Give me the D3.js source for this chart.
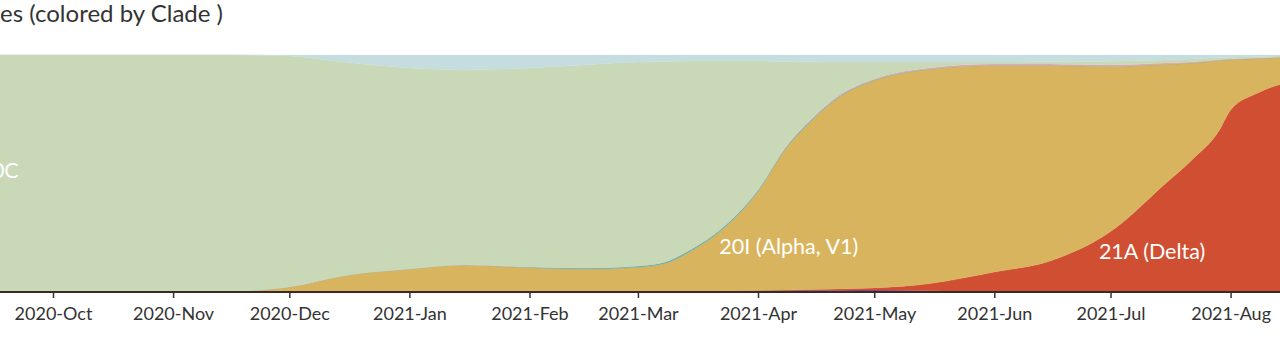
<!DOCTYPE html>
<html>
<head>
<meta charset="utf-8">
<script src="https://cdn.jsdelivr.net/npm/d3@7"></script>
<style>
  body { margin: 0; background: #fff; overflow: hidden; }
  svg { display: block; font-family: Lato, "Open Sans", sans-serif; }
</style>
</head>
<body>
<div id="chart"></div>
<script>
// Sample dates (pivots)
const dates = [
  "2020-09-15", "2020-10-01", "2020-10-15", "2020-11-01", "2020-11-15",
  "2020-12-01", "2020-12-15", "2021-01-01", "2021-01-15", "2021-02-01",
  "2021-02-15", "2021-03-01", "2021-03-08", "2021-03-15", "2021-03-22",
  "2021-04-01", "2021-04-08", "2021-04-15", "2021-04-22", "2021-05-01",
  "2021-05-15", "2021-06-01", "2021-06-15", "2021-07-01", "2021-07-15",
  "2021-07-22", "2021-07-29", "2021-08-01", "2021-08-08", "2021-08-15"
];

// Clades, stacked from the bottom up
const clades = ["21B (Kappa)", "21A (Delta)", "20I (Alpha, V1)", "20H (Beta, V2)", "20J (Gamma, V3)", "20C", "20B"];
const cladeColors = ["#7a3f9c", "#d04f32", "#d9b45e", "#62b2a6", "#dba7ad", "#c9d9b8", "#c6dde0"];

// frequencies per clade, one value per date
const kappa = [0, 0, 0, 0, 0, 0, 0, 0, 0, 0, 0, 0, 0, 0.001, 0.003, 0.005, 0.006, 0.007, 0.007, 0.008, 0.005, 0.002, 0.001, 0, 0, 0, 0, 0, 0, 0];
const delta = [0, 0, 0, 0, 0, 0, 0, 0, 0, 0, 0, 0, 0, 0, 0, 0.001, 0.002, 0.004, 0.006, 0.009, 0.030, 0.082, 0.128, 0.255, 0.455, 0.557, 0.680, 0.768, 0.840, 0.882];
const alpha = [0, 0, 0, 0, 0.002, 0.021, 0.068, 0.097, 0.114, 0.102, 0.096, 0.104, 0.120, 0.175, 0.250, 0.418, 0.593, 0.715, 0.810, 0.875, 0.904, 0.872, 0.827, 0.697, 0.506, 0.409, 0.297, 0.212, 0.145, 0.108];
const beta = [0, 0, 0, 0, 0, 0, 0, 0, 0, 0.003, 0.005, 0.006, 0.007, 0.007, 0.007, 0.006, 0.005, 0.004, 0.003, 0.002, 0.001, 0, 0, 0, 0, 0, 0, 0, 0, 0];
const gamma = [0, 0, 0, 0, 0, 0, 0, 0, 0, 0, 0, 0, 0, 0, 0, 0, 0.002, 0.004, 0.005, 0.005, 0.005, 0.006, 0.006, 0.006, 0.005, 0.004, 0.003, 0.003, 0.002, 0.002];
const c20C = [1, 1, 1, 1, 0.998, 0.975, 0.902, 0.848, 0.823, 0.840, 0.857, 0.860, 0.846, 0.792, 0.715, 0.545, 0.365, 0.237, 0.139, 0.071, 0.025, 0.008, 0.009, 0.016, 0.013, 0.013, 0.008, 0.007, 0.007, 0.004];
const c20B = [0, 0, 0, 0, 0, 0.004, 0.030, 0.055, 0.063, 0.055, 0.042, 0.030, 0.027, 0.025, 0.025, 0.025, 0.027, 0.029, 0.030, 0.030, 0.030, 0.030, 0.029, 0.026, 0.021, 0.017, 0.012, 0.010, 0.006, 0.004];

const series = [kappa, delta, alpha, beta, gamma, c20C, c20B];

// Axis ticks
const tickDates = ["2020-10-01", "2020-11-01", "2020-12-01", "2021-01-01", "2021-02-01", "2021-03-01",
  "2021-04-01", "2021-05-01", "2021-06-01", "2021-07-01", "2021-08-01"];

// Streamgraph labels: [clade, anchor date, frequency height]
const labels = [
  ["20C", "2020-09-12", 0.48],
  ["20I (Alpha, V1)", "2021-03-22", 0.16],
  ["21A (Delta)", "2021-06-28", 0.14]
];

const width = 1280;
const height = 347;
const margin = { top: 55, bottom: 55 };

const parse = d3.timeParse("%Y-%m-%d");

const table = dates.map((d, i) => {
  const row = { date: parse(d) };
  clades.forEach((c, j) => row[c] = series[j][i]);
  return row;
});

const svg = d3.select("#chart")
  .append("svg")
  .attr("width", width)
  .attr("height", height);

// Time scale: Oct-1 sits at x=53 and Aug-1 at x~1231
const x = d3.scaleTime()
  .domain([parse("2020-10-01"), parse("2021-08-01")])
  .range([53, 1230.6]);

const y = d3.scaleLinear()
  .domain([0, 1])
  .range([height - margin.bottom, margin.top]);

const stack = d3.stack()
  .keys(clades)
  .offset(d3.stackOffsetExpand);

const layers = stack(table);

const area = d3.area()
  .curve(d3.curveMonotoneX)
  .x(d => x(d.data.date))
  .y0(d => y(d[0]))
  .y1(d => y(d[1]));

svg.append("g")
  .selectAll("path")
  .data(layers)
  .enter().append("path")
  .attr("fill", (d, i) => cladeColors[i])
  .attr("stroke", (d, i) => cladeColors[i])
  .attr("stroke-width", 0.3)
  .attr("d", area);

// Axis
const axis = svg.append("g")
  .attr("transform", `translate(0, ${height - margin.bottom})`)
  .call(d3.axisBottom(x)
    .tickValues(tickDates.map(parse))
    .tickFormat(d3.timeFormat("%Y-%b"))
    .tickSize(6)
    .tickPadding(9));

axis.select(".domain").remove();
axis.append("line")
  .attr("x1", 0).attr("x2", width)
  .attr("y1", 0).attr("y2", 0)
  .attr("stroke", "#3a2a22")
  .attr("stroke-width", 2);
axis.selectAll(".tick line").attr("stroke", "#333").attr("stroke-width", 1.5);
axis.selectAll(".tick text")
  .attr("fill", "#333")
  .style("font-size", "18px")
  .style("font-family", "Lato, sans-serif");

// Clade labels
svg.append("g")
  .selectAll("text")
  .data(labels)
  .enter().append("text")
  .attr("x", d => x(parse(d[1])))
  .attr("y", d => y(d[2]))
  .attr("fill", "#fff")
  .style("font-size", "21.5px")
  .text(d => d[0]);

// Title (page is cropped on the left)
svg.append("text")
  .attr("x", 223)
  .attr("y", 22)
  .attr("text-anchor", "end")
  .attr("fill", "#333")
  .style("font-size", "24px")
  .text("Frequencies (colored by Clade )");
</script>
</body>
</html>
